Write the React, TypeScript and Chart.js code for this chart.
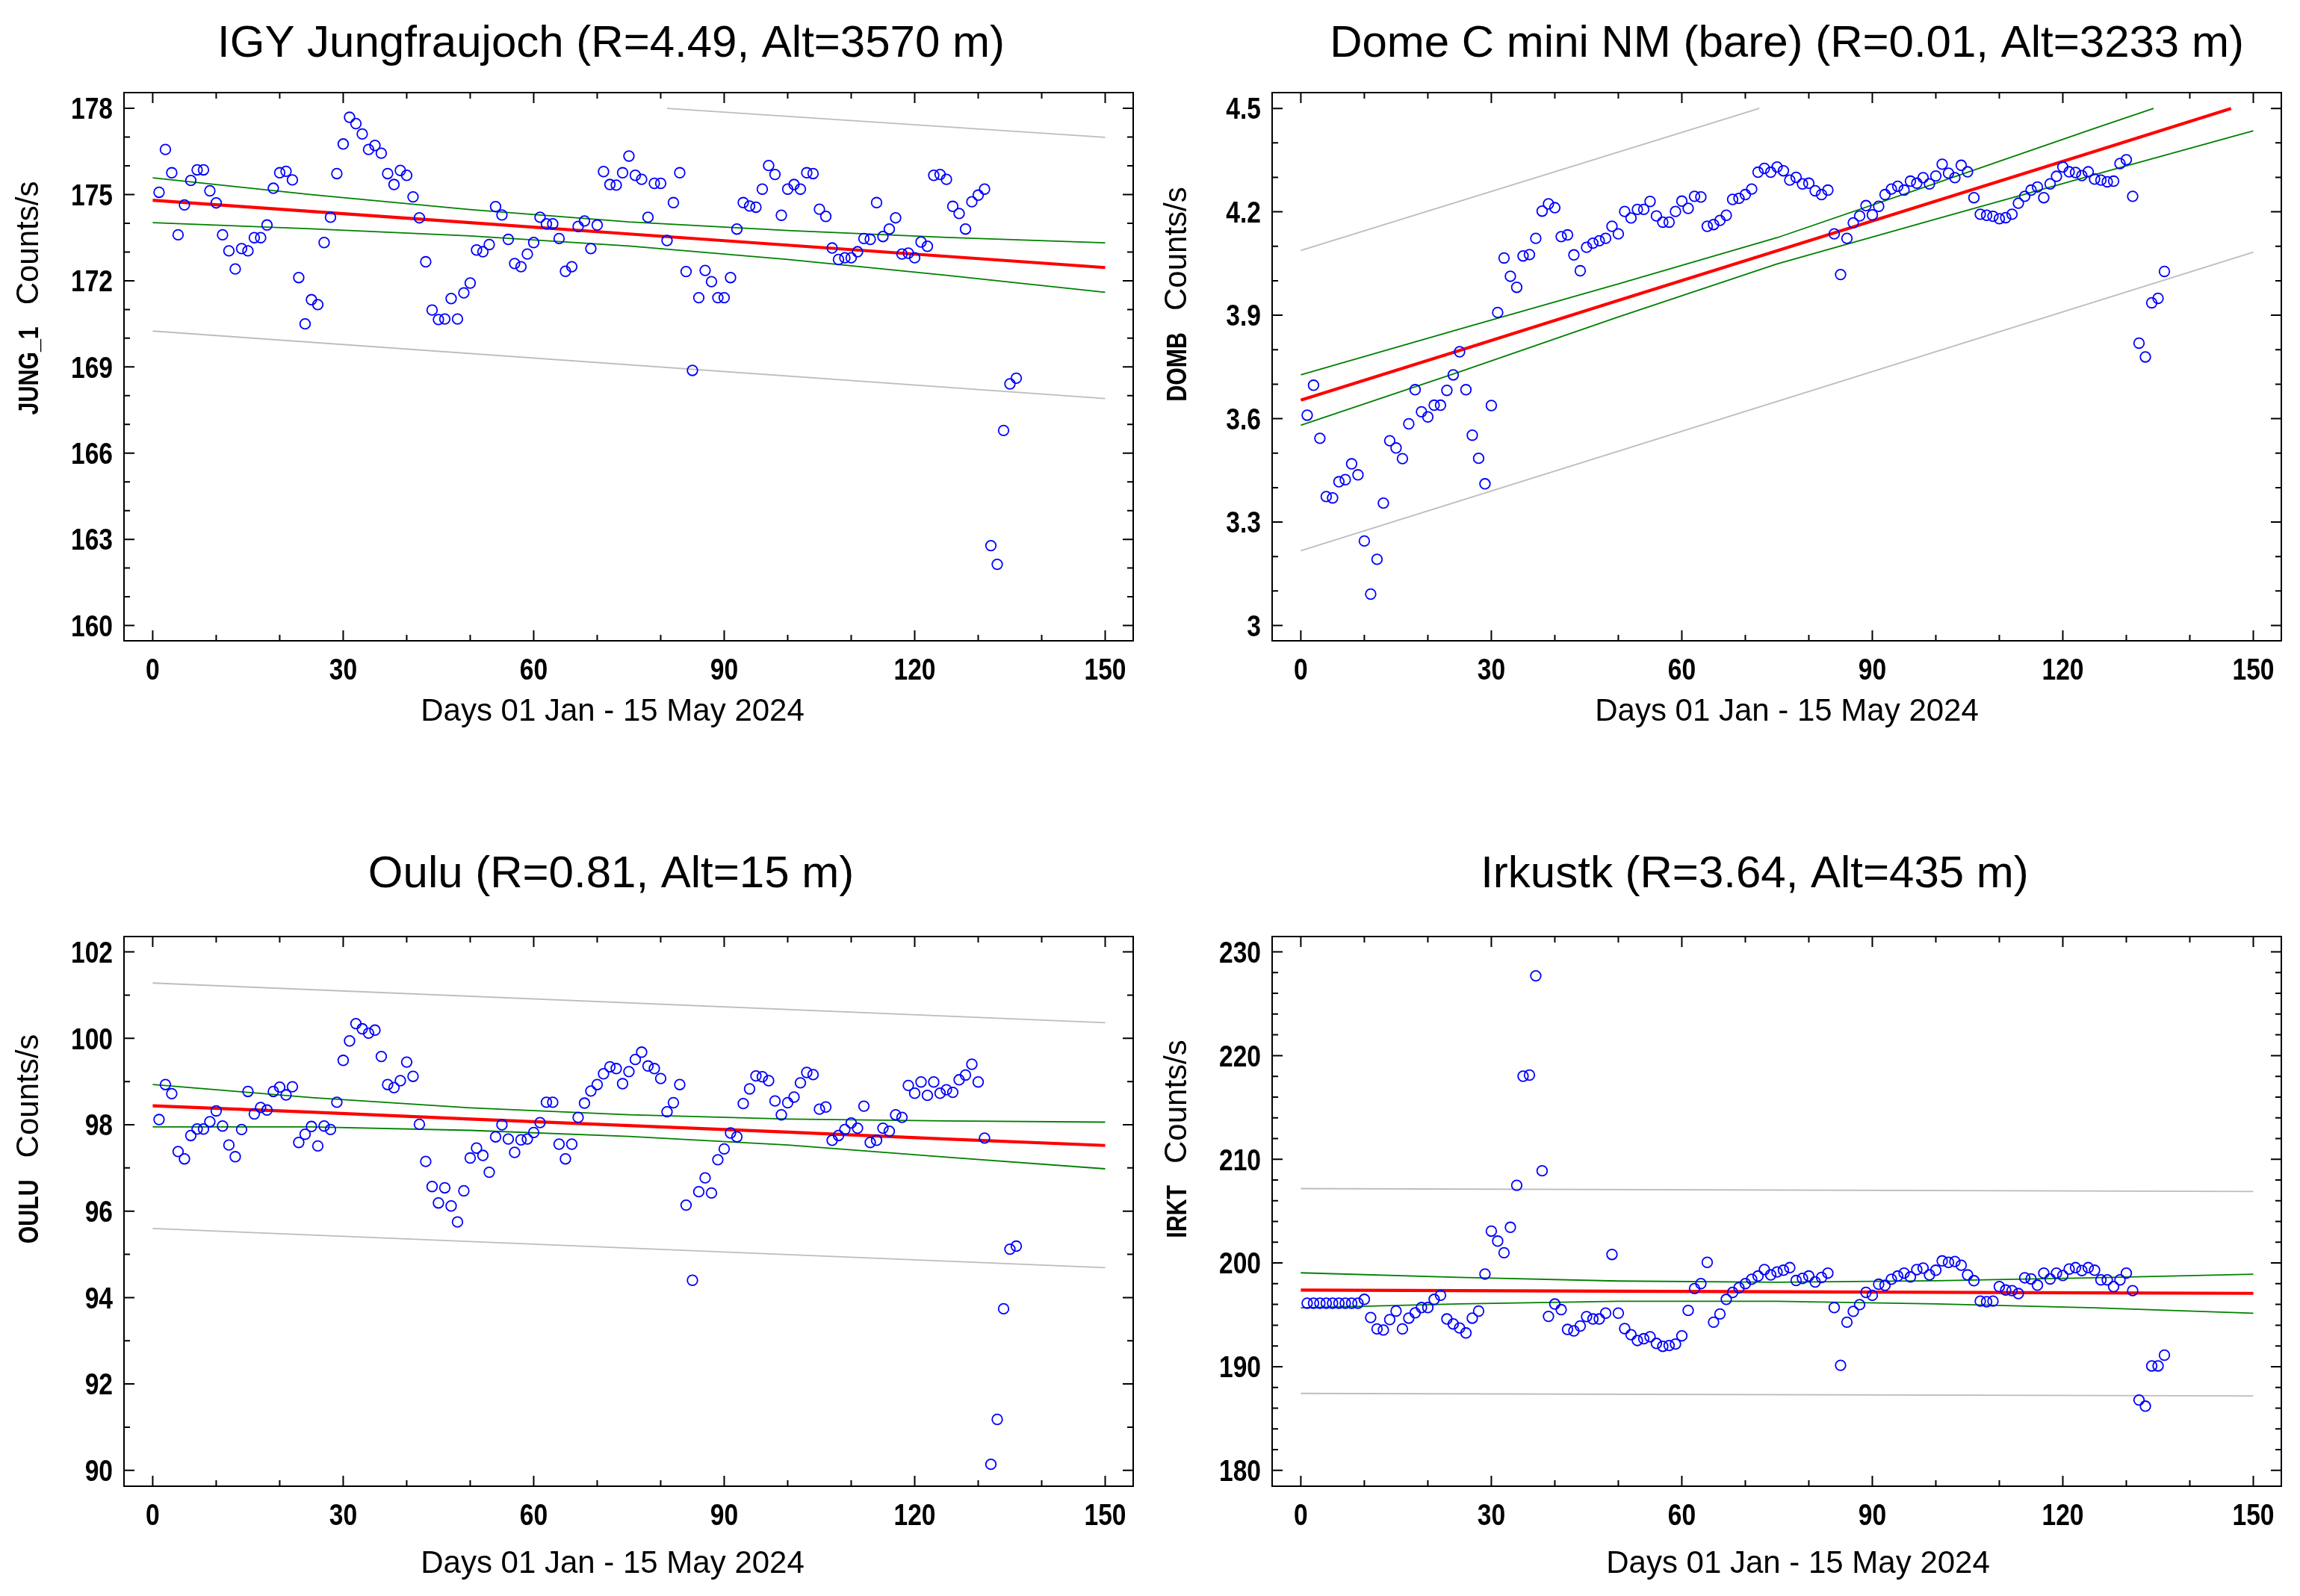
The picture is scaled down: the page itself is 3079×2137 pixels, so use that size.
import React, { useEffect, useRef } from "react";
import { Chart, registerables } from "chart.js";

Chart.register(...registerables);

// ---------------- DATA ----------------
const DAYS = [
  1, 2, 3, 4, 5, 6, 7, 8, 9, 10, 11, 12, 13, 14, 15, 16, 17, 18, 19, 20,
  21, 22, 23, 24, 25, 26, 27, 28, 29, 30, 31, 32, 33, 34, 35, 36, 37, 38, 39, 40,
  41, 42, 43, 44, 45, 46, 47, 48, 49, 50, 51, 52, 53, 54, 55, 56, 57, 58, 59, 60,
  61, 62, 63, 64, 65, 66, 67, 68, 69, 70, 71, 72, 73, 74, 75, 76, 77, 78, 79, 80,
  81, 82, 83, 84, 85, 86, 87, 88, 89, 90, 91, 92, 93, 94, 95, 96, 97, 98, 99, 100,
  101, 102, 103, 104, 105, 106, 107, 108, 109, 110, 111, 112, 113, 114, 115, 116, 117, 118, 119, 120,
  121, 122, 123, 124, 125, 126, 127, 128, 129, 130, 131, 132, 133, 134, 135, 136,
];

const JUNG_COUNTS = [
  175.08, 176.57, 175.76, 173.6, 174.64, 175.49, 175.86, 175.86, 175.13, 174.71,
  173.6, 173.04, 172.41, 173.12, 173.04, 173.5, 173.5, 173.94, 175.22, 175.76,
  175.81, 175.51, 172.11, 170.5, 171.34, 171.17, 173.33, 174.21, 175.73, 176.76,
  177.69, 177.47, 177.11, 176.57, 176.71, 176.44, 175.73, 175.35, 175.84, 175.67,
  174.92, 174.19, 172.66, 170.98, 170.65, 170.67, 171.38, 170.67, 171.58, 171.92,
  173.07, 173.01, 173.26, 174.58, 174.29, 173.44, 172.6, 172.49, 172.93, 173.33,
  174.21, 173.98, 173.98, 173.47, 172.33, 172.49, 173.89, 174.08, 173.12, 173.94,
  175.8, 175.35, 175.33, 175.76, 176.34, 175.67, 175.53, 174.21, 175.39, 175.39,
  173.4, 174.72, 175.76, 172.32, 168.88, 171.41, 172.36, 171.97, 171.41, 171.41,
  172.11, 173.8, 174.72, 174.6, 174.56, 175.19, 176.01, 175.7, 174.28, 175.19,
  175.35, 175.19, 175.76, 175.73, 174.49, 174.24, 173.14, 172.74, 172.8, 172.8,
  173.01, 173.47, 173.44, 174.72, 173.54, 173.8, 174.19, 172.93, 172.96, 172.8,
  173.35, 173.2, 175.67, 175.7, 175.53, 174.59, 174.34, 173.8, 174.75, 174.98,
  175.19, 162.78, 162.13, 166.79, 168.41, 168.61,
];

const DOMB_COUNTS = [
  3.61, 3.697, 3.543, 3.374, 3.37, 3.417, 3.423, 3.469, 3.437, 3.245,
  3.091, 3.192, 3.355, 3.536, 3.515, 3.484, 3.585, 3.684, 3.62, 3.605,
  3.639, 3.639, 3.682, 3.727, 3.794, 3.684, 3.552, 3.485, 3.411, 3.638,
  3.908, 4.066, 4.013, 3.981, 4.072, 4.076, 4.123, 4.202, 4.223, 4.212,
  4.128, 4.133, 4.075, 4.029, 4.097, 4.109, 4.116, 4.123, 4.158, 4.136,
  4.201, 4.182, 4.207, 4.207, 4.23, 4.188, 4.17, 4.17, 4.201, 4.231,
  4.21, 4.245, 4.243, 4.158, 4.163, 4.175, 4.19, 4.236, 4.239, 4.25,
  4.266, 4.315, 4.326, 4.315, 4.33, 4.319, 4.292, 4.3, 4.281, 4.283,
  4.261, 4.25, 4.263, 4.136, 4.018, 4.123, 4.168, 4.188, 4.218, 4.191,
  4.216, 4.25, 4.266, 4.274, 4.263, 4.289, 4.283, 4.299, 4.281, 4.304,
  4.338, 4.312, 4.299, 4.335, 4.316, 4.241, 4.193, 4.19, 4.187, 4.18,
  4.183, 4.193, 4.225, 4.245, 4.263, 4.272, 4.241, 4.281, 4.303, 4.33,
  4.316, 4.314, 4.305, 4.316, 4.295, 4.292, 4.287, 4.289, 4.34, 4.351,
  4.245, 3.819, 3.779, 3.936, 3.949, 4.027,
];

const OULU_COUNTS = [
  98.12, 98.93, 98.72, 97.38, 97.21, 97.75, 97.9, 97.9, 98.07, 98.32,
  97.97, 97.53, 97.26, 97.89, 98.77, 98.25, 98.4, 98.34, 98.77, 98.87,
  98.69, 98.88, 97.59, 97.78, 97.96, 97.51, 97.97, 97.89, 98.52, 99.49,
  99.94, 100.34, 100.22, 100.12, 100.19, 99.58, 98.93, 98.86, 99.02, 99.45,
  99.12, 98.01, 97.15, 96.57, 96.19, 96.54, 96.12, 95.75, 96.47, 97.23,
  97.46, 97.29, 96.9, 97.72, 98.0, 97.67, 97.36, 97.65, 97.67, 97.82,
  98.05, 98.52, 98.52, 97.55, 97.21, 97.55, 98.17, 98.5, 98.78, 98.93,
  99.18, 99.34, 99.3, 98.95, 99.23, 99.51, 99.68, 99.36, 99.3, 99.07,
  98.3, 98.51, 98.93, 96.14, 94.4, 96.45, 96.77, 96.42, 97.19, 97.44,
  97.81, 97.72, 98.49, 98.83, 99.13, 99.11, 99.02, 98.55, 98.23, 98.51,
  98.64, 98.97, 99.21, 99.16, 98.36, 98.41, 97.64, 97.75, 97.89, 98.04,
  97.92, 98.43, 97.59, 97.64, 97.92, 97.85, 98.23, 98.17, 98.91, 98.73,
  98.99, 98.68, 98.99, 98.73, 98.81, 98.75, 99.04, 99.15, 99.4, 98.99,
  97.69, 90.14, 91.18, 93.74, 95.12, 95.19,
];

const IRKT_COUNTS = [
  196.12, 196.12, 196.12, 196.12, 196.12, 196.12, 196.12, 196.12, 196.12, 196.49,
  194.74, 193.64, 193.53, 194.54, 195.36, 193.64, 194.68, 195.19, 195.7, 195.7,
  196.49, 196.88, 194.6, 194.12, 193.73, 193.25, 194.68, 195.36, 198.93, 203.07,
  202.11, 200.99, 203.44, 207.49, 218.01, 218.12, 227.69, 208.89, 194.85, 196.04,
  195.5, 193.59, 193.45, 193.92, 194.83, 194.6, 194.6, 195.16, 200.82, 195.16,
  193.67, 193.08, 192.52, 192.69, 192.88, 192.24, 191.96, 192.04, 192.18, 192.97,
  195.42, 197.53, 198.01, 200.06, 194.29, 195.08, 196.49, 197.16, 197.61, 198.01,
  198.43, 198.74, 199.36, 198.85, 199.13, 199.3, 199.55, 198.31, 198.51, 198.74,
  198.17, 198.6, 199.02, 195.7, 190.13, 194.29, 195.33, 195.98, 197.16, 196.88,
  197.95, 197.84, 198.43, 198.74, 199.02, 198.65, 199.36, 199.5, 198.85, 199.3,
  200.2, 200.06, 200.14, 199.78, 198.85, 198.29, 196.32, 196.26, 196.32, 197.72,
  197.39, 197.33, 197.05, 198.57, 198.46, 197.86, 199.02, 198.46, 199.02, 198.79,
  199.41, 199.55, 199.27, 199.55, 199.3, 198.37, 198.37, 197.72, 198.37, 199.02,
  197.33, 186.78, 186.19, 190.07, 190.07, 191.11,
];

// regression line, confidence band (green) and prediction band (grey)
const FIT_DAYS = [0, 25, 50, 75, 100, 125, 150];

const JUNG_FIT = [174.8, 174.41, 174.02, 173.63, 173.24, 172.85, 172.46];
const JUNG_CONF_HI = [175.58, 175.0, 174.48, 174.05, 173.75, 173.51, 173.32];
const JUNG_CONF_LO = [174.02, 173.81, 173.56, 173.21, 172.74, 172.19, 171.6];
const JUNG_PRED_HI_DAYS = [81, 150];
const JUNG_PRED_HI = [178.0, 176.99];
const JUNG_PRED_LO_DAYS = [0, 150];
const JUNG_PRED_LO = [170.25, 167.9];

const DOMB_FIT_DAYS = [0, 25, 50, 75, 100, 125, 146.5];
const DOMB_FIT = [3.654, 3.798, 3.943, 4.087, 4.231, 4.375, 4.5];
const DOMB_CONF_HI_DAYS = [0, 25, 50, 75, 100, 125, 134.3];
const DOMB_CONF_HI = [3.727, 3.86, 3.991, 4.125, 4.283, 4.442, 4.5];
const DOMB_CONF_LO = [3.581, 3.736, 3.895, 4.049, 4.179, 4.308, 4.435];
const DOMB_PRED_HI_DAYS = [0, 72.2];
const DOMB_PRED_HI = [4.088, 4.5];
const DOMB_PRED_LO_DAYS = [0, 150];
const DOMB_PRED_LO = [3.217, 4.083];

const OULU_FIT = [98.44, 98.29, 98.13, 97.98, 97.83, 97.67, 97.52];
const OULU_CONF_HI = [98.93, 98.63, 98.39, 98.23, 98.13, 98.09, 98.06];
const OULU_CONF_LO = [97.95, 97.95, 97.87, 97.73, 97.53, 97.25, 96.98];
const OULU_PRED_DAYS = [0, 150];
const OULU_PRED_HI = [101.28, 100.36];
const OULU_PRED_LO = [95.6, 94.69];

const IRKT_FIT = [197.38, 197.33, 197.28, 197.22, 197.17, 197.12, 197.07];
const IRKT_CONF_HI = [199.05, 198.61, 198.26, 198.14, 198.29, 198.57, 198.92];
const IRKT_CONF_LO = [195.68, 196.05, 196.3, 196.3, 196.05, 195.67, 195.15];
const IRKT_PRED_DAYS = [0, 150];
const IRKT_PRED_HI = [207.17, 206.89];
const IRKT_PRED_LO = [187.42, 187.18];

// ticks
const DAY_TICKS = [0, 30, 60, 90, 120, 150];
const DAY_MINOR_TICKS = [0, 10, 20, 30, 40, 50, 60, 70, 80, 90, 100, 110, 120, 130, 140, 150];
const JUNG_Y_TICKS = [160, 163, 166, 169, 172, 175, 178];
const JUNG_Y_MINOR = [160, 161, 162, 163, 164, 165, 166, 167, 168, 169, 170, 171, 172, 173, 174, 175, 176, 177, 178];
const DOMB_Y_TICKS = [3, 3.3, 3.6, 3.9, 4.2, 4.5];
const DOMB_Y_MINOR = [3, 3.1, 3.2, 3.3, 3.4, 3.5, 3.6, 3.7, 3.8, 3.9, 4.0, 4.1, 4.2, 4.3, 4.4, 4.5];
const OULU_Y_TICKS = [90, 92, 94, 96, 98, 100, 102];
const OULU_Y_MINOR = [90, 91, 92, 93, 94, 95, 96, 97, 98, 99, 100, 101, 102];
const IRKT_Y_TICKS = [180, 190, 200, 210, 220, 230];
const IRKT_Y_MINOR = [
  180, 182, 184, 186, 188, 190, 192, 194, 196, 198, 200, 202, 204, 206, 208, 210,
  212, 214, 216, 218, 220, 222, 224, 226, 228, 230,
];

const X_TITLE = "Days 01 Jan - 15 May 2024";
const Y_UNIT = "Counts/s";

// ---------------- STYLE ----------------
const SANS = '"Liberation Sans", Arial, sans-serif';
const BLUE = "#0000ff";
const RED = "#ff0000";
const GREEN = "#008000";
const GREY = "#bdbdbd";
const NARROW_SCALE = 0.84; // Arial-Narrow look: horizontally compressed Liberation Sans Bold

type XY = { x: number; y: number };
const pairs = (xs: number[], ys: number[]): XY[] => xs.map((x, i) => ({ x, y: ys[i] }));

type Panel = {
  title: string;
  yName: string;
  counts: number[];
  fit: XY[];
  confHi: XY[];
  confLo: XY[];
  predHi: XY[];
  predLo: XY[];
  yMin: number;
  yMax: number;
  yTicks: number[];
  yMinor: number[];
  left: number;
  top: number;
  width: number;
  height: number;
  area: { l: number; r: number; t: number; b: number };
  titleX: number;
  titleY: number;
  xTitleX: number;
  xTitleY: number;
  yTitleX: number;
  yTitleY: number;
};

const PANELS: Panel[] = [
  {
    title: "IGY Jungfraujoch (R=4.49, Alt=3570 m)",
    yName: "JUNG_1",
    counts: JUNG_COUNTS,
    fit: pairs(FIT_DAYS, JUNG_FIT),
    confHi: pairs(FIT_DAYS, JUNG_CONF_HI),
    confLo: pairs(FIT_DAYS, JUNG_CONF_LO),
    predHi: pairs(JUNG_PRED_HI_DAYS, JUNG_PRED_HI),
    predLo: pairs(JUNG_PRED_LO_DAYS, JUNG_PRED_LO),
    yMin: 159.468,
    yMax: 178.549,
    yTicks: JUNG_Y_TICKS,
    yMinor: JUNG_Y_MINOR,
    left: 0, top: 0, width: 1540, height: 1068,
    area: { l: 166, r: 1517, t: 124, b: 858 },
    titleX: 818, titleY: 76, xTitleX: 820, xTitleY: 965, yTitleX: 51, yTitleY: 399,
  },
  {
    title: "Dome C mini NM (bare) (R=0.01, Alt=3233 m)",
    yName: "DOMB",
    counts: DOMB_COUNTS,
    fit: pairs(DOMB_FIT_DAYS, DOMB_FIT),
    confHi: pairs(DOMB_CONF_HI_DAYS, DOMB_CONF_HI),
    confLo: pairs(FIT_DAYS, DOMB_CONF_LO),
    predHi: pairs(DOMB_PRED_HI_DAYS, DOMB_PRED_HI),
    predLo: pairs(DOMB_PRED_LO_DAYS, DOMB_PRED_LO),
    yMin: 2.9556,
    yMax: 4.5458,
    yTicks: DOMB_Y_TICKS,
    yMinor: DOMB_Y_MINOR,
    left: 1540, top: 0, width: 1539, height: 1068,
    area: { l: 163, r: 1514, t: 124, b: 858 },
    titleX: 852, titleY: 76, xTitleX: 852, xTitleY: 965, yTitleX: 47.5, yTitleY: 394,
  },
  {
    title: "Oulu (R=0.81, Alt=15 m)",
    yName: "OULU",
    counts: OULU_COUNTS,
    fit: pairs(FIT_DAYS, OULU_FIT),
    confHi: pairs(FIT_DAYS, OULU_CONF_HI),
    confLo: pairs(FIT_DAYS, OULU_CONF_LO),
    predHi: pairs(OULU_PRED_DAYS, OULU_PRED_HI),
    predLo: pairs(OULU_PRED_DAYS, OULU_PRED_LO),
    yMin: 89.633,
    yMax: 102.356,
    yTicks: OULU_Y_TICKS,
    yMinor: OULU_Y_MINOR,
    left: 0, top: 1068, width: 1540, height: 1069,
    area: { l: 166, r: 1517, t: 186, b: 922 },
    titleX: 818, titleY: 120, xTitleX: 820, xTitleY: 1038, yTitleX: 51, yTitleY: 457,
  },
  {
    title: "Irkustk (R=3.64, Alt=435 m)",
    yName: "IRKT",
    counts: IRKT_COUNTS,
    fit: pairs(FIT_DAYS, IRKT_FIT),
    confHi: pairs(FIT_DAYS, IRKT_CONF_HI),
    confLo: pairs(FIT_DAYS, IRKT_CONF_LO),
    predHi: pairs(IRKT_PRED_DAYS, IRKT_PRED_HI),
    predLo: pairs(IRKT_PRED_DAYS, IRKT_PRED_LO),
    yMin: 178.47,
    yMax: 231.48,
    yTicks: IRKT_Y_TICKS,
    yMinor: IRKT_Y_MINOR,
    left: 1540, top: 1068, width: 1539, height: 1069,
    area: { l: 163, r: 1514, t: 186, b: 922 },
    titleX: 809, titleY: 120, xTitleX: 867, xTitleY: 1038, yTitleX: 47.5, yTitleY: 457,
  },
];

const MAJOR_LEN = 14;
const MINOR_LEN = 8;

function narrowText(ctx: CanvasRenderingContext2D, text: string, x: number, y: number, align: "left" | "right" | "center") {
  ctx.save();
  ctx.translate(x, y);
  ctx.scale(NARROW_SCALE, 1);
  ctx.textAlign = align;
  ctx.fillText(text, 0, 0);
  ctx.restore();
}

const decorPlugin = {
  id: "decor",
  afterDraw(chart: any, _args: any, opts: any) {
    const p: Panel = opts.panel;
    const ctx: CanvasRenderingContext2D = chart.ctx;
    const a = chart.chartArea;
    const xs = chart.scales.x;
    const ys = chart.scales.y;
    ctx.save();
    // frame
    ctx.strokeStyle = "#000";
    ctx.lineWidth = 2;
    ctx.strokeRect(a.left, a.top, a.right - a.left, a.bottom - a.top);
    // inward tick marks on all four sides
    ctx.beginPath();
    for (const v of DAY_MINOR_TICKS) {
      const px = xs.getPixelForValue(v);
      const len = DAY_TICKS.includes(v) ? MAJOR_LEN : MINOR_LEN;
      ctx.moveTo(px, a.bottom);
      ctx.lineTo(px, a.bottom - len);
      ctx.moveTo(px, a.top);
      ctx.lineTo(px, a.top + len);
    }
    for (const v of p.yMinor) {
      const py = ys.getPixelForValue(v);
      const len = p.yTicks.some((t) => Math.abs(t - v) < 1e-9) ? MAJOR_LEN : MINOR_LEN;
      ctx.moveTo(a.left, py);
      ctx.lineTo(a.left + len, py);
      ctx.moveTo(a.right, py);
      ctx.lineTo(a.right - len, py);
    }
    ctx.stroke();

    // tick labels (bold, narrow)
    ctx.fillStyle = "#000";
    ctx.textBaseline = "alphabetic";
    ctx.font = `bold 40px ${SANS}`;
    for (const v of DAY_TICKS) {
      narrowText(ctx, String(v), xs.getPixelForValue(v), a.bottom + 52, "center");
    }
    for (const v of p.yTicks) {
      narrowText(ctx, String(v), a.left - 15, ys.getPixelForValue(v) + 14.3, "right");
    }

    // titles
    ctx.textAlign = "center";
    ctx.font = `60px ${SANS}`;
    ctx.fillText(p.title, p.titleX, p.titleY);
    ctx.font = `42px ${SANS}`;
    ctx.fillText(X_TITLE, p.xTitleX, p.xTitleY);

    // rotated y title: bold narrow station name + regular unit
    ctx.translate(p.yTitleX, p.yTitleY);
    ctx.rotate(-Math.PI / 2);
    ctx.textAlign = "left";
    const boldFont = `bold 37px ${SANS}`;
    const regFont = `42px ${SANS}`;
    ctx.font = boldFont;
    const w1 = ctx.measureText(p.yName).width * 0.82;
    ctx.font = regFont;
    const w2 = ctx.measureText(Y_UNIT).width;
    const gap = 29;
    const start = -(w1 + gap + w2) / 2;
    ctx.font = boldFont;
    ctx.save();
    ctx.translate(start, 0);
    ctx.scale(0.82, 1);
    ctx.fillText(p.yName, 0, 0);
    ctx.restore();
    ctx.font = regFont;
    ctx.fillText(Y_UNIT, start + w1 + gap, 0);
    ctx.restore();
  },
};

function PanelChart({ p }: { p: Panel }) {
  const ref = useRef<HTMLCanvasElement | null>(null);
  useEffect(() => {
    if (!ref.current) return;
    const lineDs = (data: XY[], color: string, width: number, order: number) => ({
      data,
      showLine: true,
      borderColor: color,
      backgroundColor: color,
      borderWidth: width,
      pointRadius: 0,
      pointHoverRadius: 0,
      fill: false,
      tension: 0,
      order,
    });
    const chart = new Chart(ref.current, {
      type: "scatter",
      data: {
        datasets: [
          {
            data: pairs(DAYS, p.counts),
            showLine: false,
            pointStyle: "circle",
            pointRadius: 6.8,
            pointBorderWidth: 1.8,
            borderColor: BLUE,
            backgroundColor: "rgba(0,0,0,0)",
            pointBorderColor: BLUE,
            pointBackgroundColor: "rgba(0,0,0,0)",
            order: 0,
          } as any,
          lineDs(p.fit, RED, 4.2, 1),
          lineDs(p.confHi, GREEN, 1.8, 2),
          lineDs(p.confLo, GREEN, 1.8, 2),
          lineDs(p.predHi, GREY, 1.8, 3),
          lineDs(p.predLo, GREY, 1.8, 3),
        ],
      },
      options: {
        responsive: false,
        animation: false,
        devicePixelRatio: 1,
        events: [],
        layout: {
          padding: { left: 0, top: p.area.t, right: p.width - p.area.r, bottom: 0 },
        },
        plugins: {
          legend: { display: false },
          title: { display: false },
          tooltip: { enabled: false },
          decor: { panel: p },
        } as any,
        scales: {
          x: {
            type: "linear",
            min: -4.52,
            max: 154.41,
            grid: { display: false, drawTicks: false },
            border: { display: false },
            ticks: { display: false },
            afterBuildTicks: (s: any) => {
              s.ticks = DAY_TICKS.map((value) => ({ value }));
            },
            afterFit: (s: any) => {
              s.height = p.height - p.area.b;
            },
          },
          y: {
            type: "linear",
            min: p.yMin,
            max: p.yMax,
            grid: { display: false, drawTicks: false },
            border: { display: false },
            ticks: { display: false },
            afterBuildTicks: (s: any) => {
              s.ticks = p.yTicks.map((value) => ({ value }));
            },
            afterFit: (s: any) => {
              s.width = p.area.l;
            },
          },
        },
      },
      plugins: [decorPlugin as any],
    });
    return () => chart.destroy();
  }, [p]);
  return (
    <canvas
      ref={ref}
      width={p.width}
      height={p.height}
      style={{ position: "absolute", left: p.left, top: p.top, width: p.width, height: p.height }}
    />
  );
}

export default function App() {
  return (
    <div
      style={{
        position: "absolute",
        left: 0,
        top: 0,
        width: 3079,
        height: 2137,
        background: "#fff",
        overflow: "hidden",
      }}
    >
      {PANELS.map((p) => (
        <PanelChart key={p.yName} p={p} />
      ))}
    </div>
  );
}
